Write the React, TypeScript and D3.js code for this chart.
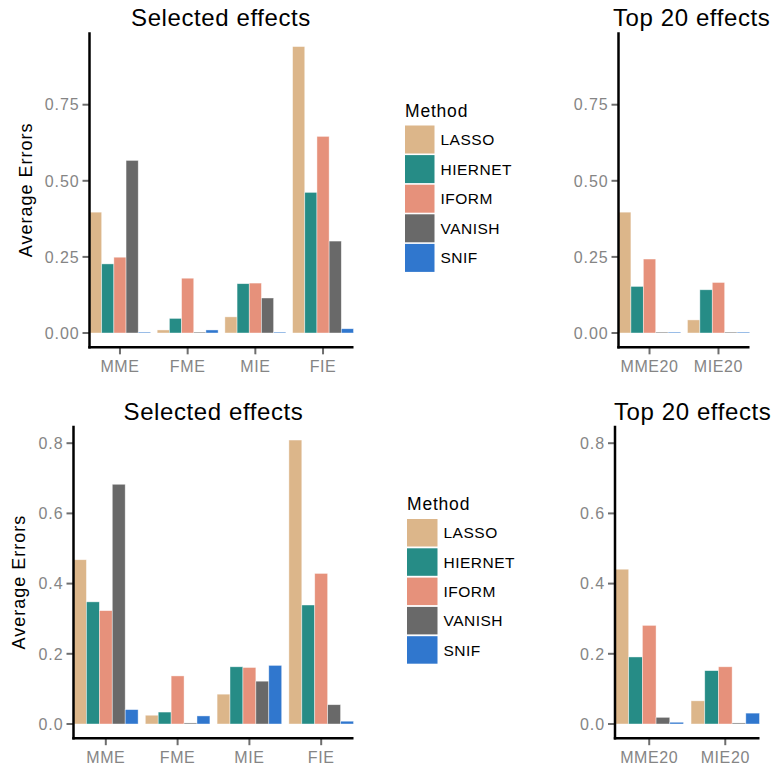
import React from 'react';
import * as d3 from 'd3';

const methods = ['LASSO', 'HIERNET', 'IFORM', 'VANISH', 'SNIF'];
const methodColors = ['#DCB68A', '#268C86', '#E6917B', '#696969', '#3077CE'];

const selectedCats = ['MME', 'FME', 'MIE', 'FIE'];
const topCats = ['MME20', 'MIE20'];

// rows = categories, columns = methods (LASSO, HIERNET, IFORM, VANISH, SNIF)
const selectedRow1 = [
  [0.397, 0.227, 0.249, 0.567, 0.003],
  [0.010, 0.048, 0.180, 0.003, 0.010],
  [0.053, 0.162, 0.164, 0.115, 0.003],
  [0.941, 0.462, 0.646, 0.302, 0.014],
];
const top20Row1 = [
  [0.397, 0.153, 0.243, 0.003, 0.003],
  [0.043, 0.142, 0.166, 0.003, 0.003],
];
const selectedRow2 = [
  [0.468, 0.348, 0.323, 0.683, 0.041],
  [0.025, 0.034, 0.137, 0.003, 0.023],
  [0.085, 0.163, 0.161, 0.122, 0.167],
  [0.809, 0.339, 0.429, 0.055, 0.008],
];
const top20Row2 = [
  [0.441, 0.191, 0.281, 0.019, 0.005],
  [0.066, 0.152, 0.163, 0.003, 0.031],
];

const ticksRow1 = [0, 0.25, 0.5, 0.75];
const ticksRow2 = [0, 0.2, 0.4, 0.6, 0.8];

const FONT = '"Liberation Sans", Arial, sans-serif';
const TICK_TEXT = '#858585';
const TICK_LINE = '#6e6e6e';

type PanelProps = {
  cats: string[];
  values: number[][];
  x0: number;
  x1: number;
  y: d3.ScaleLinear<number, number>;
  ticks: number[];
  fmt: (n: number) => string;
  title: string;
  titleX: number;
  titleY: number;
  titleAnchor: 'middle' | 'start';
  yLabel?: { x: number };
};

function Panel({ cats, values, x0, x1, y, ticks, fmt, title, titleX, titleY, titleAnchor, yLabel }: PanelProps) {
  const x = d3.scaleBand<string>().domain(cats).range([x0, x1]).paddingInner(0.1).paddingOuter(0);
  const xm = d3.scaleBand<string>().domain(methods).range([0, x.bandwidth()]);
  const [yBottom, yTop] = y.range();
  return (
    <g>
      <text x={titleX} y={titleY} textAnchor={titleAnchor} fontSize={24} letterSpacing={0.6} fill="#000">{title}</text>
      {cats.map((c, ci) => (
        <g key={c} transform={`translate(${x(c)},0)`}>
          {methods.map((m, mi) => {
            const v = values[ci][mi];
            return (
              <rect key={m} x={xm(m)} y={y(v)} width={xm.bandwidth()} height={y(0) - y(v)}
                fill={methodColors[mi]} stroke="#fff" strokeOpacity={0.6} strokeWidth={0.7} />
            );
          })}
        </g>
      ))}
      {ticks.map(t => (
        <g key={t}>
          <line x1={x0 - 7} x2={x0} y1={y(t)} y2={y(t)} stroke={TICK_LINE} strokeWidth={2} />
          <text x={x0 - 10} y={y(t)} dy="0.36em" textAnchor="end" fontSize={16} letterSpacing={0.9} fill={TICK_TEXT}>{fmt(t)}</text>
        </g>
      ))}
      {cats.map(c => {
        const cx = (x(c) as number) + x.bandwidth() / 2;
        return (
          <g key={c}>
            <line x1={cx} x2={cx} y1={yBottom} y2={yBottom + 7} stroke={TICK_LINE} strokeWidth={2} />
            <text x={cx} y={yBottom + 25} textAnchor="middle" fontSize={16} letterSpacing={0.6} fill={TICK_TEXT}>{c}</text>
          </g>
        );
      })}
      <line x1={x0} x2={x0} y1={yTop} y2={yBottom + 1.2} stroke="#000" strokeWidth={2.5} />
      <line x1={x0 - 1.2} x2={x1} y1={yBottom} y2={yBottom} stroke="#000" strokeWidth={2.5} />
      {yLabel && (
        <text transform={`translate(${yLabel.x},${(yTop + yBottom) / 2}) rotate(-90)`} textAnchor="middle"
          fontSize={18} letterSpacing={1} fill="#000">Average Errors</text>
      )}
    </g>
  );
}

function Legend({ x, titleY, keyY, step, keyW, keyH }: { x: number; titleY: number; keyY: number; step: number; keyW: number; keyH: number }) {
  return (
    <g>
      <text x={x} y={titleY} fontSize={17.5} letterSpacing={0.8} fill="#000">Method</text>
      {methods.map((m, i) => (
        <g key={m} transform={`translate(${x},${keyY + i * step})`}>
          <rect width={keyW} height={keyH} fill={methodColors[i]} />
          <text x={keyW + 6} y={keyH / 2} dy="0.36em" fontSize={15.5} letterSpacing={0.5} fill="#000">{m}</text>
        </g>
      ))}
    </g>
  );
}

function paddedY(rows: number[][], zero: number, pxPerUnit: number) {
  const max = d3.max(rows.flat()) as number;
  const lo = -0.05 * max;
  const hi = max * 1.05;
  return d3.scaleLinear().domain([lo, hi]).range([zero - lo * pxPerUnit, zero - hi * pxPerUnit]);
}

export default function App() {
  const y1 = paddedY([...selectedRow1, ...top20Row1], 333, 304.4);
  const y2 = paddedY([...selectedRow2, ...top20Row2], 724, 351);
  const f2 = d3.format('.2f');
  const f1 = d3.format('.1f');
  return (
    <svg width={778} height={767} style={{ position: 'absolute', left: 0, top: 0, background: '#fff' }} fontFamily={FONT}>
      <Panel cats={selectedCats} values={selectedRow1} x0={89.5} x1={353.5} y={y1} ticks={ticksRow1} fmt={f2}
        title="Selected effects" titleX={221} titleY={26} titleAnchor="middle" yLabel={{ x: 32 }} />
      <Panel cats={topCats} values={top20Row1} x0={618.5} x1={749.5} y={y1} ticks={ticksRow1} fmt={f2}
        title="Top 20 effects" titleX={613} titleY={26} titleAnchor="start" />
      <Legend x={405} titleY={117} keyY={125.5} step={29.6} keyW={29.5} keyH={28} />

      <Panel cats={selectedCats} values={selectedRow2} x0={73.5} x1={353.5} y={y2} ticks={ticksRow2} fmt={f1}
        title="Selected effects" titleX={213.5} titleY={420} titleAnchor="middle" yLabel={{ x: 25 }} />
      <Panel cats={topCats} values={top20Row2} x0={615} x1={759.5} y={y2} ticks={ticksRow2} fmt={f1}
        title="Top 20 effects" titleX={614} titleY={420} titleAnchor="start" />
      <Legend x={407} titleY={510} keyY={519} step={29.3} keyW={30.5} keyH={27.5} />
    </svg>
  );
}
